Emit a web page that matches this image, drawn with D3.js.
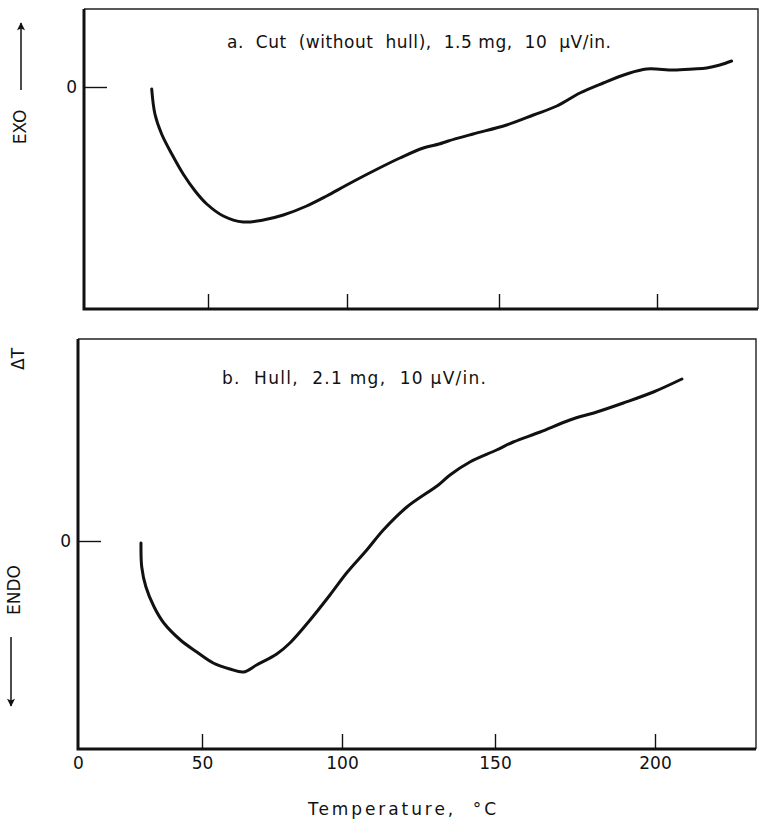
<!DOCTYPE html>
<html>
<head>
<meta charset="utf-8">
<script src="https://cdn.jsdelivr.net/npm/d3@7"></script>
<style>
  body { margin: 0; background: #fff; }
  svg { display: block; }
  text { font-family: "DejaVu Sans", "Liberation Sans", sans-serif; fill: #111; }
</style>
</head>
<body>
<svg id="chart" width="760" height="824"></svg>
<script>
// temperature ticks (°C)
var tempTicks = [0, 50, 100, 150, 200]

// a. Cut (without hull) - temperature (°C) and delta T (arbitrary chart units, 0 = baseline)
var tempA = [27.3, 28.6, 31.3, 35.4, 40.0, 44.8, 49.5, 55.5, 62.7, 69.9, 77.1, 85.5, 92.7, 99.9,
  108.7, 117.4, 125.1, 130.3, 133.3, 141.5, 152.4, 160.9, 168.3, 175.6, 183.0, 190.4, 196.7,
  205.2, 211.5, 215.7, 219.9, 223.6]
var dtA = [-0.02, -0.27, -0.47, -0.67, -0.87, -1.04, -1.17, -1.29, -1.35, -1.33, -1.28, -1.19, -1.09, -0.98,
  -0.84, -0.71, -0.61, -0.57, -0.54, -0.47, -0.38, -0.28, -0.19, -0.06, 0.04, 0.13, 0.18,
  0.17, 0.18, 0.19, 0.22, 0.26]

// b. Hull
var tempB = [25.4, 25.7, 27.4, 30.7, 34.6, 41.3, 47.9, 54.0, 60.0, 64.8, 69.5, 76.7, 81.4, 88.6,
  95.7, 101.5, 108.1, 113.5, 121.2, 131.5, 135.3, 141.8, 150.5, 155.7, 164.1, 173.4, 181.8,
  190.1, 199.5, 208.4]
var dtB = [-0.02, -0.26, -0.46, -0.66, -0.82, -0.99, -1.11, -1.22, -1.28, -1.31, -1.24, -1.13, -1.02, -0.79,
  -0.54, -0.32, -0.09, 0.11, 0.34, 0.56, 0.66, 0.79, 0.91, 0.99, 1.09, 1.21, 1.29,
  1.38, 1.49, 1.62]

var svg = d3.select('#chart')

// the recorder's temperature axis is not quite linear, so use a polylinear scale
var panels = [
  { id: 'a', left: 84, right: 758, top: 9, bottom: 309,
    xr: [84, 208, 347, 499, 657], yd: [-2.22, 0.78],
    temp: tempA, dt: dtA, label: 'a.  Cut  (without  hull),  1.5 mg,  10  \u03bcV/in.',
    lx: 227, ly: 48, lw: 384, showTicks: false },
  { id: 'b', left: 78, right: 756, top: 339, bottom: 749,
    xr: [78, 202, 342, 495, 655], yd: [-2.08, 2.02],
    temp: tempB, dt: dtB, label: 'b.  Hull,  2.1 mg,  10 \u03bcV/in.',
    lx: 222, ly: 384, lw: 264, showTicks: true }
]

panels.forEach(function (p) {
  var x = d3.scaleLinear().domain(tempTicks).range(p.xr)
  var y = d3.scaleLinear().domain(p.yd).range([p.bottom, p.top])
  var g = svg.append('g').attr('class', 'panel-' + p.id)

  // frame: thin top/right, heavy left/bottom
  g.append('path')
    .attr('d', 'M' + p.left + ',' + p.top + 'H' + p.right + 'V' + p.bottom)
    .attr('fill', 'none').attr('stroke', '#222').attr('stroke-width', 1.4)
  g.append('path')
    .attr('d', 'M' + p.left + ',' + p.top + 'V' + p.bottom + 'H' + p.right)
    .attr('fill', 'none').attr('stroke', '#111').attr('stroke-width', 3)

  // temperature ticks point up into the plot
  var xAxis = d3.axisBottom(x)
    .tickValues(p.showTicks ? tempTicks : tempTicks.slice(1))
    .tickSize(-15)
    .tickPadding(8)
  if (!p.showTicks) xAxis.tickFormat('')
  var ax = g.append('g').attr('transform', 'translate(0,' + p.bottom + ')').call(xAxis)
  ax.select('.domain').remove()
  ax.selectAll('line').attr('stroke', '#111').attr('stroke-width', 1.4)
  ax.selectAll('text').attr('font-size', 17).attr('fill', '#111')
  ax.selectAll('.tick').filter(function (d) { return d === 0 }).select('line').remove()

  // zero line marker
  var yAxis = d3.axisLeft(y).tickValues([0]).tickSize(-23).tickPadding(7).tickFormat(d3.format('d'))
  var ay = g.append('g').attr('transform', 'translate(' + p.left + ',0)').call(yAxis)
  ay.select('.domain').remove()
  ay.selectAll('line').attr('stroke', '#111').attr('stroke-width', 1.4)
  ay.selectAll('text').attr('font-size', 17).attr('fill', '#111')

  var pts = p.temp.map(function (t, i) { return [t, p.dt[i]] })
  var line = d3.line()
    .x(function (d) { return x(d[0]) })
    .y(function (d) { return y(d[1]) })
    .curve(d3.curveCatmullRom.alpha(0.5))
  g.append('path')
    .datum(pts)
    .attr('d', line)
    .attr('fill', 'none')
    .attr('stroke', '#111')
    .attr('stroke-width', 3)
    .attr('stroke-linecap', 'round')
    .attr('stroke-linejoin', 'round')

  g.append('text')
    .attr('x', p.lx).attr('y', p.ly)
    .attr('font-size', 17)
    .attr('textLength', p.lw).attr('lengthAdjust', 'spacing')
    .style('white-space', 'pre')
    .text(p.label)
})

// x axis title
svg.append('text')
  .attr('x', 308).attr('y', 815)
  .attr('font-size', 17)
  .attr('textLength', 188).attr('lengthAdjust', 'spacing')
  .style('white-space', 'pre')
  .text('Temperature,  \u00b0C')

// vertical annotations on the left
function vtext(txt, cx, cy) {
  svg.append('text')
    .attr('transform', 'translate(' + cx + ',' + cy + ') rotate(-90)')
    .attr('text-anchor', 'middle')
    .attr('dominant-baseline', 'central')
    .attr('font-size', 17)
    .text(txt)
}
vtext('EXO', 20, 127)
vtext('\u0394T', 18, 359)
vtext('ENDO', 14, 590)

svg.append('defs').append('marker')
  .attr('id', 'head')
  .attr('viewBox', '0 0 10 10')
  .attr('refX', 9).attr('refY', 5)
  .attr('markerWidth', 12).attr('markerHeight', 8)
  .attr('markerUnits', 'userSpaceOnUse')
  .attr('orient', 'auto')
  .append('path').attr('d', 'M0,0L10,5L0,10L2,5Z').attr('fill', '#111')

svg.append('line')
  .attr('x1', 21).attr('y1', 90).attr('x2', 21).attr('y2', 23)
  .attr('stroke', '#111').attr('stroke-width', 1.5).attr('marker-end', 'url(#head)')
svg.append('line')
  .attr('x1', 11).attr('y1', 637).attr('x2', 11).attr('y2', 706)
  .attr('stroke', '#111').attr('stroke-width', 1.5).attr('marker-end', 'url(#head)')
</script>
</body>
</html>
